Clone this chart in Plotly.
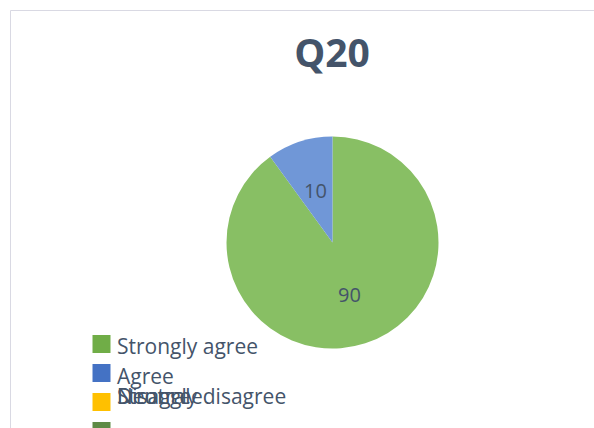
import math
import plotly.graph_objects as go

W, H = 594, 428

title_text = "Q20"
categories = ["Strongly agree", "Agree", "Neutral", "Disagree", "Strongly disagree"]
values = [90, 10, 0, 0, 0]
slice_colors = ["#88BF64", "#7097D7", "#FFC000", "#5E8A45", "#264478"]
legend_colors = ["#70AD47", "#4472C4", "#FFC000", "#5E8A45", "#264478"]

text_color = "#44546A"
font_family = "Open Sans"

def px_x(x):
    return x / W

def px_y(y):
    return 1 - y / H

cx, cy, r = 332.5, 242.5, 106

fig = go.Figure()
fig.add_trace(go.Pie(
    labels=categories,
    values=values,
    sort=False,
    direction="clockwise",
    rotation=0,
    marker=dict(colors=slice_colors, line=dict(width=0)),
    textinfo="none",
    domain=dict(x=[px_x(cx - r), px_x(cx + r)], y=[px_y(cy + r), px_y(cy - r)]),
    showlegend=False,
    hoverinfo="label+value",
))

shapes = []
annotations = []

# data labels, placed along each slice's bisector (derived from the values)
total = sum(values)
cum = 0
for v in values:
    if v > 0:
        mid = (cum + v / 2) / total * 2 * math.pi
        lx = cx + 0.52 * r * math.sin(mid)
        ly = cy - 0.52 * r * math.cos(mid)
        annotations.append(dict(text=str(v), xref="paper", yref="paper",
                                x=px_x(lx), y=px_y(ly), xanchor="center", yanchor="middle",
                                showarrow=False,
                                font=dict(family=font_family, size=20, color=text_color)))
    cum += v

# chart frame
shapes.append(dict(type="rect", xref="paper", yref="paper",
                   x0=px_x(10.5), x1=1.05, y0=-0.05, y1=px_y(10.5),
                   line=dict(color="#D9D9E3", width=1), fillcolor="rgba(0,0,0,0)", layer="below"))

# manual legend (mimicking the overlapping entries of the original)
marker_rows = [344, 373, 402, 431, 460]
text_rows = [346, 376, 396, 396, 396]
for i, cat in enumerate(categories):
    my = marker_rows[i]
    shapes.append(dict(type="rect", xref="paper", yref="paper",
                       x0=px_x(92.5), x1=px_x(110.5), y0=px_y(my + 9), y1=px_y(my - 9),
                       fillcolor=legend_colors[i], line=dict(width=0)))
    annotations.append(dict(text=cat, xref="paper", yref="paper",
                            x=px_x(115), y=px_y(text_rows[i]), xanchor="left", yanchor="middle",
                            showarrow=False,
                            font=dict(family=font_family, size=21, color=text_color)))

fig.update_layout(
    width=W, height=H,
    margin=dict(l=0, r=0, t=0, b=0),
    paper_bgcolor="white",
    plot_bgcolor="white",
    title=dict(text="<b>" + title_text + "</b>", x=px_x(332), xanchor="center",
               y=px_y(53), yanchor="middle",
               font=dict(family=font_family, size=39, color=text_color)),
    shapes=shapes,
    annotations=annotations,
)

fig.write_html("out.html",
               config={"displayModeBar": False},
               post_script="document.body.style.margin='0';document.body.style.padding='0';")
